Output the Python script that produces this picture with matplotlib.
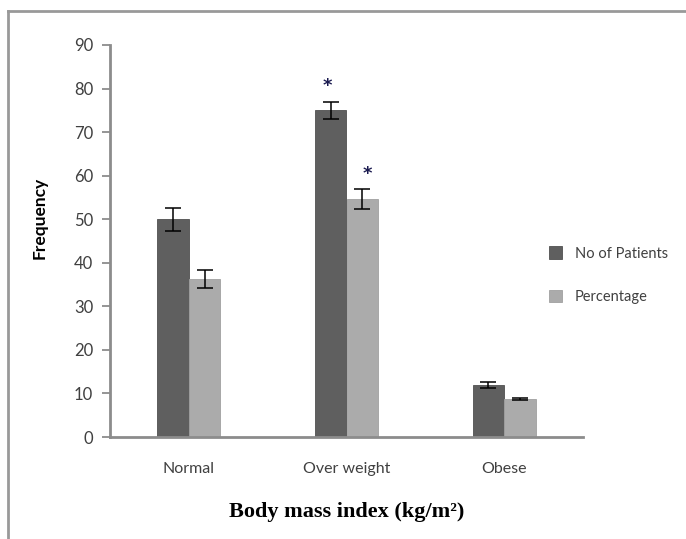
import matplotlib
matplotlib.use("Agg")
import matplotlib.pyplot as plt
from matplotlib.lines import Line2D
import numpy as np

categories = ["Normal", "Over weight", "Obese"]
series_names = ["No of Patients", "Percentage"]
patients = [50, 75, 12]
percentage = [36.3, 54.6, 8.7]
patients_err = [2.6, 2.0, 0.7]
percentage_err = [2.0, 2.3, 0.3]
significant = [False, True, False]
yticks = [0, 10, 20, 30, 40, 50, 60, 70, 80, 90]

dark = "#5f5f5f"
light = "#ababab"
axis_grey = "#8c8c8c"
text_grey = "#404040"
tick_font = "Lato"

fig = plt.figure(figsize=(6.86, 5.39), dpi=100)
ax = fig.add_axes([110/686, 1-437/539, (583-110)/686, (437-45)/539])

x = np.arange(len(categories))
w = 0.2
b1 = ax.bar(x - w/2, patients, w, color=dark, edgecolor="#505050", linewidth=0.6,
            yerr=patients_err, error_kw=dict(ecolor="black", elinewidth=1.1, capsize=6, capthick=1.1),
            label=series_names[0], zorder=2)
b2 = ax.bar(x + w/2, percentage, w, color=light, edgecolor="#a0a0a0", linewidth=0.6,
            yerr=percentage_err, error_kw=dict(ecolor="black", elinewidth=1.1, capsize=6, capthick=1.1),
            label=series_names[1], zorder=2)

for i, s in enumerate(significant):
    if s:
        ax.text(x[i] - w/2 - 0.02, patients[i] + patients_err[i] + 3.5, "*", ha="center", va="center",
                fontsize=13, color="#1a1a50", fontweight="bold")
        ax.text(x[i] + w/2 + 0.03, percentage[i] + percentage_err[i] + 3.5, "*", ha="center", va="center",
                fontsize=13, color="#1a1a50", fontweight="bold")

ax.set_xlim(-0.5, 2.5)
ax.set_ylim(0, 90)
ax.set_yticks(yticks)
ax.set_yticklabels([str(t) for t in yticks], fontsize=12, family=tick_font, color=text_grey)
ax.set_xticks(x)
ax.set_xticklabels(categories, fontsize=11.5, family=tick_font, color=text_grey)
ax.tick_params(axis="x", length=0, pad=18)
ax.tick_params(axis="y", length=6, width=1.3, color=axis_grey, pad=6, direction="out")
for side in ["top", "right"]:
    ax.spines[side].set_visible(False)
for side in ["left", "bottom"]:
    ax.spines[side].set_color(axis_grey)
    ax.spines[side].set_linewidth(2.0)

ax.set_ylabel("Frequency", fontsize=12.5, fontweight="bold", family=tick_font, color="black")
ax.yaxis.set_label_coords(-0.132, 0.56)
ax.set_xlabel("Body mass index (kg/m²)", fontsize=16, fontweight="bold",
              family="Liberation Serif", color="black")
ax.xaxis.set_label_coords(0.5, -0.165)

leg = ax.legend(handles=[b1, b2], labels=series_names, loc="center left",
                bbox_to_anchor=(0.9, 0.413), frameon=False,
                prop=dict(family=tick_font, size=10.5), labelspacing=2.0,
                handlelength=0.9, handleheight=0.9, handletextpad=0.9)
for t in leg.get_texts():
    t.set_color(text_grey)

# figure border (top and left lines visible)
fig.add_artist(Line2D([8/686, 1], [1-11/539, 1-11/539], color="#999999", lw=2, transform=fig.transFigure))
fig.add_artist(Line2D([8/686, 8/686], [0, 1-11/539], color="#999999", lw=2, transform=fig.transFigure))

fig.savefig("out.png", dpi=100)
